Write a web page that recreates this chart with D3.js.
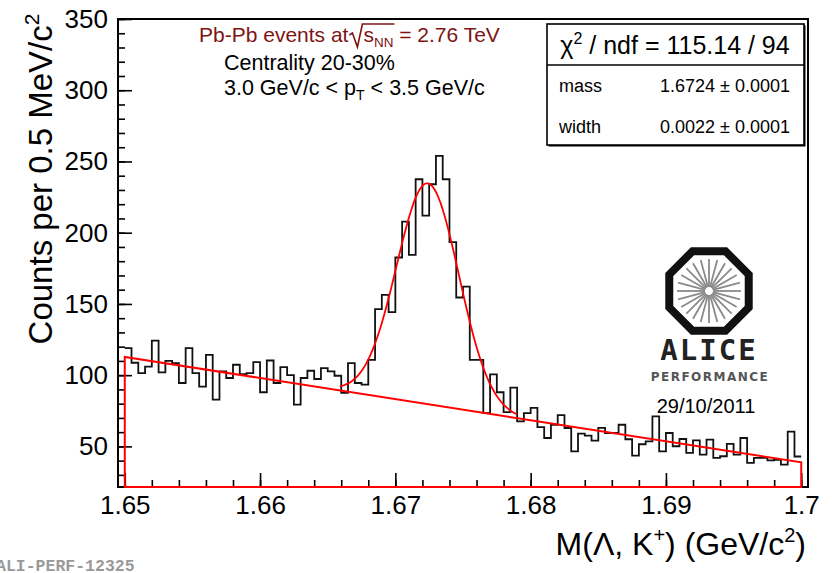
<!DOCTYPE html>
<html>
<head>
<meta charset="utf-8">
<script src="https://cdn.jsdelivr.net/npm/d3@7"></script>
<style>
  body { margin: 0; background: #fff; }
</style>
</head>
<body>
<svg id="chart" font-family="Liberation Sans, Arial, sans-serif"></svg>
<script>
var width = 832,
    height = 573;

// histogram: 100 bins of 0.5 MeV from 1.65 to 1.70
var binStart = 1.65,
    binWidth = 0.0005;
var counts = [
  119, 108.7, 101.5, 106, 124.2, 101.9, 110, 108.5, 94.5, 119,
  101.5, 92, 114.3, 82.8, 102.6, 98, 107.3, 100.8, 101.5, 109.2,
  88, 110.3, 94.5, 105.7, 100, 79.3, 98, 103.1, 97.3, 105,
  102.6, 99.6, 87.5, 108.5, 94.5, 93.4, 110.8, 146.4, 156.4, 144.3,
  182.6, 207.8, 184.5, 237.5, 212, 234, 253.9, 237.5, 193.4, 154.5,
  162.2, 110.8, 110.8, 73.4, 100.5, 88, 74, 91.3, 67.6, 73.4,
  77, 63.5, 55.9, 65.2, 72, 62.9, 46.5, 59, 57.5, 54,
  63, 59.4, 59.4, 65.2, 55, 43.5, 51.5, 53.5, 71.1, 46.5,
  59.4, 50.1, 55.2, 45.4, 54.2, 44.2, 54.7, 41.9, 43.1, 51.8,
  44.2, 55.9, 38.4, 41.9, 41.9, 40.2, 40.5, 37.2, 60.3, 42.9
];

// fit: gaussian peak on a linear background
var fitMass = 1.6724,
    fitSigma = 0.0023,
    fitAmp = 155,
    fitBgLow = 112.8,   // background at 1.65
    fitBgHigh = 38.8,   // background at 1.70
    fitRange = [1.65, 1.70],
    peakRange = [1.6659, 1.6790];

var xTicks = [1.65, 1.66, 1.67, 1.68, 1.69, 1.70],
    xTickLabels = ["1.65", "1.66", "1.67", "1.68", "1.69", "1.7"];
var yTicks = [50, 100, 150, 200, 250, 300, 350];

var statTitle = "115.14 / 94",
    statRows = [["mass", "1.6724", "0.0001"], ["width", "0.0022", "0.0001"]];

var padL = 118, padR = 808, padT = 19, padB = 487;

var x = d3.scaleLinear().domain([1.6495, 1.7005]).range([padL, padR]);
var y = d3.scaleLinear().domain([21.5, 350]).range([padB, padT]);

var svg = d3.select("#chart").attr("width", width).attr("height", height);
svg.append("rect").attr("width", width).attr("height", height).attr("fill", "#fff");

// frame
svg.append("rect")
  .attr("x", padL).attr("y", padT)
  .attr("width", padR - padL).attr("height", padB - padT)
  .attr("fill", "none").attr("stroke", "#000").attr("stroke-width", 2);

// ticks (inward, ROOT style)
function styleAxis(g) {
  g.select(".domain").remove();
  g.selectAll("line").attr("stroke", "#000").attr("stroke-width", 1.6);
  g.attr("font-family", null).attr("font-size", 26);
  g.selectAll("text").attr("fill", "#000");
}
var minorX = d3.range(0, 26).map(function(i) { return 1.65 + i * 0.002; });
var minorY = d3.range(30, 351, 10);

svg.append("g").attr("transform", "translate(0," + padB + ")")
  .call(d3.axisBottom(x).tickValues(minorX).tickSize(-7).tickFormat(""))
  .call(styleAxis);
svg.append("g").attr("transform", "translate(0," + padB + ")")
  .call(d3.axisBottom(x).tickValues(xTicks).tickSize(-14).tickPadding(9)
    .tickFormat(function(d, i) { return xTickLabels[i]; }))
  .call(styleAxis);
svg.append("g").attr("transform", "translate(" + padL + ",0)")
  .call(d3.axisLeft(y).tickValues(minorY).tickSize(-7).tickFormat(""))
  .call(styleAxis);
svg.append("g").attr("transform", "translate(" + padL + ",0)")
  .call(d3.axisLeft(y).tickValues(yTicks).tickSize(-14).tickPadding(10))
  .call(styleAxis);

// histogram step line
var steps = [];
counts.forEach(function(c, i) {
  steps.push([binStart + i * binWidth, c]);
  steps.push([binStart + (i + 1) * binWidth, c]);
});
var line = d3.line().x(function(d) { return x(d[0]); }).y(function(d) { return y(d[1]); });
svg.append("path")
  .datum(steps)
  .attr("d", line)
  .attr("fill", "none")
  .attr("stroke", "#111")
  .attr("stroke-width", 1.8);

// fit: background drawn as closed area outline
function bg(m) {
  return fitBgLow + (fitBgHigh - fitBgLow) * (m - fitRange[0]) / (fitRange[1] - fitRange[0]);
}
var bgShape = [
  [fitRange[0], y.domain()[0]], [fitRange[0], bg(fitRange[0])],
  [fitRange[1], bg(fitRange[1])], [fitRange[1], y.domain()[0]]
];
svg.append("path")
  .attr("d", line(bgShape) + "Z")
  .attr("fill", "none")
  .attr("stroke", "#f00")
  .attr("stroke-width", 2);

var peakPts = d3.range(peakRange[0], peakRange[1] + 1e-9, 0.0001).map(function(m) {
  var z = (m - fitMass) / fitSigma;
  return [m, bg(m) + fitAmp * Math.exp(-0.5 * z * z)];
});
svg.append("path")
  .datum(peakPts)
  .attr("d", line.curve(d3.curveMonotoneX))
  .attr("fill", "none")
  .attr("stroke", "#f00")
  .attr("stroke-width", 1.8);

// axis titles
svg.append("text")
  .attr("transform", "translate(52,179) rotate(-90)")
  .attr("text-anchor", "middle")
  .attr("font-size", 33)
  .html('Counts per 0.5 MeV/c<tspan dy="-13" font-size="21">2</tspan>');
svg.append("text")
  .attr("x", 806).attr("y", 555)
  .attr("text-anchor", "end")
  .attr("font-size", 32)
  .html('M(Λ, K<tspan dy="-13" font-size="20">+</tspan><tspan dy="13">) (GeV/c</tspan><tspan dy="-13" font-size="20">2</tspan><tspan dy="13">)</tspan>');

// labels in the pad
var red = "#7d1414";
var t1 = svg.append("text")
  .attr("x", 199).attr("y", 42)
  .attr("font-size", 21).attr("fill", red)
  .text("Pb-Pb events at");
var rx = 199 + t1.node().getComputedTextLength() + 1;
var t2 = svg.append("text")
  .attr("x", rx + 14).attr("y", 42)
  .attr("font-size", 21).attr("fill", red);
t2.append("tspan").text("s");
t2.append("tspan").attr("dy", 5).attr("font-size", 13.5).text("NN");
var barEnd = rx + 14 + t2.node().getComputedTextLength() + 1;
t2.append("tspan").attr("dy", -5).text(" = 2.76 TeV");
svg.append("path")
  .attr("d", "M" + rx + ",35 L" + (rx + 3) + ",33 L" + (rx + 8) + ",47 L" + (rx + 13) + ",24 L" + barEnd + ",24")
  .attr("fill", "none").attr("stroke", red).attr("stroke-width", 1.6);

svg.append("text").attr("x", 224).attr("y", 70).attr("font-size", 21.5).text("Centrality 20-30%");
svg.append("text").attr("x", 224).attr("y", 95).attr("font-size", 21.5)
  .html('3.0 GeV/c &lt; p<tspan dy="5" font-size="14">T</tspan><tspan dy="-5"> &lt; 3.5 GeV/c</tspan>');

// stats box
var sb = svg.append("g");
sb.append("rect").attr("x", 548.5).attr("y", 25.5).attr("width", 257).attr("height", 121).attr("fill", "#000");
sb.append("rect").attr("x", 547).attr("y", 24).attr("width", 257).attr("height", 121)
  .attr("fill", "#fff").attr("stroke", "#000").attr("stroke-width", 1.6);
sb.append("line").attr("x1", 547).attr("x2", 804).attr("y1", 65).attr("y2", 65)
  .attr("stroke", "#000").attr("stroke-width", 1.6);
sb.append("text").attr("x", 675).attr("y", 54).attr("text-anchor", "middle").attr("font-size", 25)
  .html('χ<tspan dy="-10" font-size="16">2</tspan><tspan dy="10"> / ndf = ' + statTitle + '</tspan>');
statRows.forEach(function(r, i) {
  sb.append("text").attr("x", 559).attr("y", 92 + i * 41).attr("font-size", 18).text(r[0]);
  sb.append("text").attr("x", 790).attr("y", 92 + i * 41).attr("text-anchor", "end").attr("font-size", 18)
    .text(r[1] + " ± " + r[2]);
});

// ALICE performance logo
var logo = svg.append("g").attr("transform", "translate(709,291)");
var oct = d3.range(8).map(function(i) {
  var a = Math.PI / 8 + i * Math.PI / 4;
  return [43 * Math.cos(a), 43 * Math.sin(a)];
});
logo.append("path")
  .attr("d", d3.line()(oct) + "Z")
  .attr("fill", "#fff").attr("stroke", "#111").attr("stroke-width", 8);
d3.range(24).forEach(function(i) {
  var a = i * Math.PI / 12;
  logo.append("line")
    .attr("x1", 4 * Math.cos(a)).attr("y1", 4 * Math.sin(a))
    .attr("x2", 32 * Math.cos(a)).attr("y2", 32 * Math.sin(a))
    .attr("stroke", "#8a8a8a").attr("stroke-width", 1.8);
});
svg.append("text").attr("x", 709).attr("y", 360).attr("text-anchor", "middle")
  .attr("font-family", "DejaVu Sans Mono").attr("font-weight", "bold")
  .attr("font-size", 29).attr("letter-spacing", 2).attr("fill", "#222").text("ALICE");
svg.append("text").attr("x", 710).attr("y", 381).attr("text-anchor", "middle")
  .attr("font-family", "DejaVu Sans").attr("font-weight", "bold")
  .attr("font-size", 12).attr("letter-spacing", 1.5).attr("fill", "#555").text("PERFORMANCE");
svg.append("text").attr("x", 706).attr("y", 413).attr("text-anchor", "middle")
  .attr("font-size", 20).text("29/10/2011");

svg.append("text").attr("x", -4).attr("y", 571)
  .attr("font-family", "Liberation Mono").attr("font-weight", "bold")
  .attr("font-size", 16.5).attr("fill", "#999").text("ALI-PERF-12325");
</script>
</body>
</html>
